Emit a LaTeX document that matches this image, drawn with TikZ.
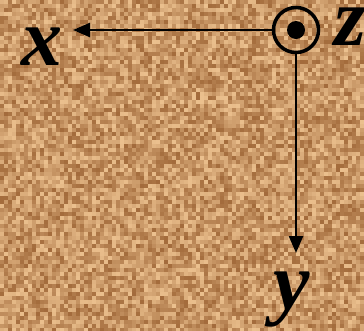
\documentclass[tikz,border=0pt]{standalone}
\usepackage{fontspec}
\setmainfont{Liberation Serif}
\usetikzlibrary{arrows.meta}
\definecolor{sandlight}{RGB}{235,192,142}
\definecolor{sanddark}{RGB}{150,92,45}
\definecolor{sandbase}{RGB}{205,152,100}
\tikzset{
  axis/.style={line width=2.5pt,-{Triangle[length=17pt,width=14pt]}},
  lbl/.style={font=\fontsize{82}{82}\selectfont\bfseries\itshape, inner sep=0pt, anchor=base}
}
\begin{document}
\begin{tikzpicture}[x=1pt,y=-1pt]
\useasboundingbox (0,0) rectangle (364,330);
\clip (0,0) rectangle (364,330);
\fill[sandbase] (0,0) rectangle (364,330);
\pgfmathsetseed{7}
\foreach \i in {0,...,90}{
  \foreach \j in {0,...,82}{
    \pgfmathrandominteger{\r}{15}{100}
    \fill[sandlight!\r!sanddark] (4*\i,4*\j) rectangle ++(4,4);
  }
}
\node[circle, draw, line width=3.5pt, minimum size=45pt, inner sep=0pt] (o) at (296,30) {};
\fill (o.center) circle (9pt);
\coordinate (xe) at (73,30);
\coordinate (ye) at (296,253);
\draw[axis] (o.west) -- (xe);
\draw[axis] (o.south) -- (ye);
\node[lbl] (xl) at (42,65) {x};
\node[lbl] (yl) at (292,309) {y};
\node[lbl] (zl) at (350,45) {z};
\end{tikzpicture}
\end{document}
